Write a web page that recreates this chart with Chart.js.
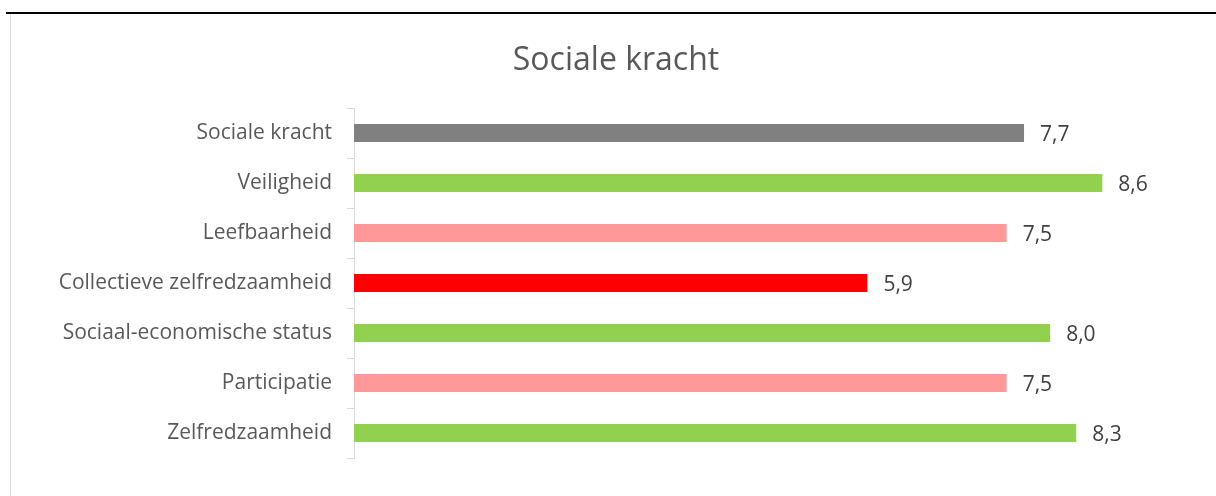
<!DOCTYPE html>
<html>
<head>
<meta charset="utf-8">
<script src="https://cdn.jsdelivr.net/npm/chart.js@4/dist/chart.umd.min.js"></script>
<style>
  html, body { margin: 0; padding: 0; background: #fff; overflow: hidden; }
  #topline { position: absolute; left: 6px; top: 12px; width: 1210px; height: 2px; background: #000; }
  #frame { position: absolute; left: 10px; top: 14px; width: 1210px; height: 490px; border-left: 1px solid #d9d9d9; }
  #wrap { position: absolute; left: 0; top: 0; width: 1232px; height: 496px; }
</style>
</head>
<body>
<div id="topline"></div>
<div id="frame"></div>
<div id="wrap"><canvas id="chart"></canvas></div>
<script>
var categories = ['Sociale kracht', 'Veiligheid', 'Leefbaarheid', 'Collectieve zelfredzaamheid',
  'Sociaal-economische status', 'Participatie', 'Zelfredzaamheid'];
var scores = [7.7, 8.6, 7.5, 5.9, 8.0, 7.5, 8.3];
var barColors = ['#808080', '#92D050', '#FF9999', '#FF0000', '#92D050', '#FF9999', '#92D050'];

var FONT = '"Open Sans", sans-serif';

// writes the value next to each bar, Dutch decimal comma
var valueLabels = {
  id: 'valueLabels',
  afterDatasetsDraw: function(chart) {
    var ctx = chart.ctx;
    var meta = chart.getDatasetMeta(0);
    ctx.save();
    ctx.font = '21px ' + FONT;
    ctx.fillStyle = '#404040';
    ctx.textBaseline = 'middle';
    meta.data.forEach(function(bar, i) {
      ctx.fillText(scores[i].toFixed(1).replace('.', ','), bar.x + 16, bar.y + 2);
    });
    ctx.restore();
  }
};

new Chart(document.getElementById('chart'), {
  type: 'bar',
  data: {
    labels: categories,
    datasets: [{
      data: scores,
      backgroundColor: barColors,
      categoryPercentage: 1,
      barPercentage: 0.36
    }]
  },
  options: {
    indexAxis: 'y',
    responsive: true,
    maintainAspectRatio: false,
    animation: false,
    layout: { padding: { top: 0, bottom: 38, left: 0, right: 0 } },
    plugins: {
      legend: { display: false },
      tooltip: { enabled: false },
      title: {
        display: true,
        text: 'Sociale kracht',
        color: '#595959',
        font: { family: FONT, size: 32, weight: 'normal', lineHeight: 1.2 },
        padding: { top: 42, bottom: 27.6 }
      }
    },
    scales: {
      x: {
        display: false,
        min: 0,
        max: 10.09
      },
      y: {
        afterFit: function(scale) { scale.width = 354; },
        grid: {
          offset: true,
          drawOnChartArea: false,
          tickLength: 7,
          color: '#d9d9d9'
        },
        border: { color: '#d9d9d9' },
        ticks: {
          color: '#595959',
          padding: 15,
          font: { family: FONT, size: 21 }
        }
      }
    }
  },
  plugins: [valueLabels]
});
</script>
</body>
</html>
